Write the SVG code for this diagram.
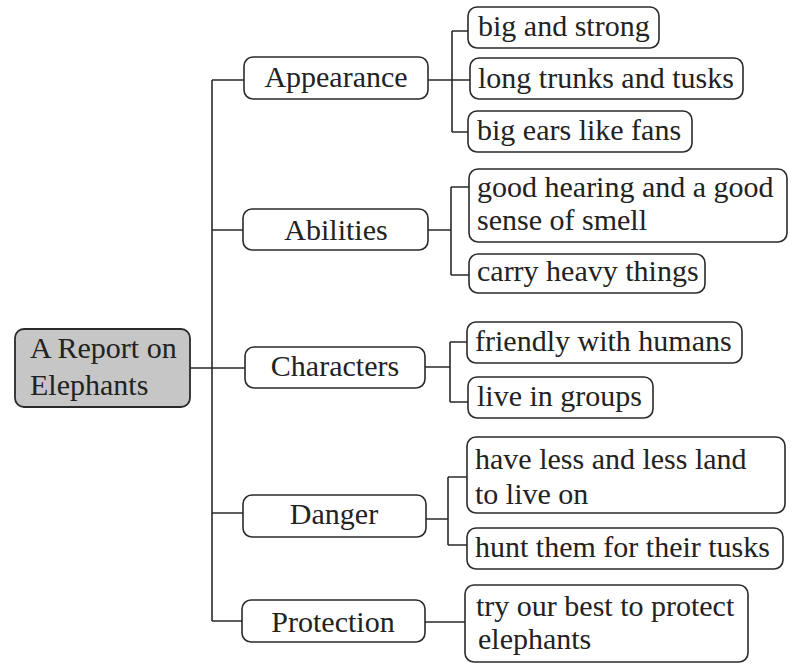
<svg xmlns="http://www.w3.org/2000/svg" width="795" height="672" viewBox="0 0 795 672">
<style>
.box{fill:#fff;stroke:#2a2a2a;stroke-width:1.6}
.root{fill:#c6c6c6;stroke:#2a2a2a;stroke-width:1.8}
.t{font-family:'Liberation Serif','DejaVu Serif',serif;font-size:30px;fill:#222}
.m{text-anchor:middle}
.c{fill:none;stroke:#2a2a2a;stroke-width:1.6}
</style>
<rect width="795" height="672" fill="#fff"/>
<g id="connectors" class="c">
<path d="M190 368H245"/>
<path d="M212 80V621"/>
<path d="M212 80H244M212 230H243M212 513H243M212 621H242"/>
<path d="M428 80H470M452 31V132M452 31H468M452 132H468"/>
<path d="M428 230H451M451 187V275M451 187H469M451 275H469"/>
<path d="M425 367H450M450 342V402M450 342H467M450 402H468"/>
<path d="M426 519H448M448 477V545M448 477H467M448 545H467"/>
<path d="M425 622H465"/>
</g>
<g id="root"><rect class="root" x="15" y="329" width="175" height="78" rx="9"/><text class="t" font-family="Liberation Serif, serif" x="30" y="358">A Report on</text><text class="t" x="30" y="395">Elephants</text></g>
<g id="appearance"><rect class="box" x="244" y="57" width="184" height="42" rx="9"/><text class="t m" x="336" y="87">Appearance</text></g>
<g id="abilities"><rect class="box" x="243" y="209" width="185" height="41" rx="9"/><text class="t m" x="336" y="240">Abilities</text></g>
<g id="characters"><rect class="box" x="245" y="347" width="180" height="41" rx="9"/><text class="t m" x="335" y="376">Characters</text></g>
<g id="danger"><rect class="box" x="243" y="495" width="183" height="42" rx="9"/><text class="t m" x="334" y="524">Danger</text></g>
<g id="protection"><rect class="box" x="242" y="600" width="183" height="42" rx="9"/><text class="t m" x="333" y="632">Protection</text></g>
<g id="leaf1"><rect class="box" x="468" y="7" width="191" height="41" rx="9"/><text class="t" x="478" y="36">big and strong</text></g>
<g id="leaf2"><rect class="box" x="470" y="58" width="273" height="41" rx="9"/><text class="t" x="478" y="88">long trunks and tusks</text></g>
<g id="leaf3"><rect class="box" x="468" y="111" width="224" height="41" rx="9"/><text class="t" x="477" y="140">big ears like fans</text></g>
<g id="leaf4"><rect class="box" x="469" y="169" width="318" height="73" rx="9"/><text class="t" x="477" y="197">good hearing and a good</text><text class="t" x="477" y="230">sense of smell</text></g>
<g id="leaf5"><rect class="box" x="469" y="254" width="236" height="39" rx="9"/><text class="t" x="477" y="281">carry heavy things</text></g>
<g id="leaf6"><rect class="box" x="467" y="322" width="275" height="41" rx="9"/><text class="t" x="475" y="351">friendly with humans</text></g>
<g id="leaf7"><rect class="box" x="468" y="377" width="185" height="41" rx="9"/><text class="t" x="477" y="406">live in groups</text></g>
<g id="leaf8"><rect class="box" x="467" y="437" width="318" height="76" rx="9"/><text class="t" x="475" y="469">have less and less land</text><text class="t" x="475" y="504">to live on</text></g>
<g id="leaf9"><rect class="box" x="467" y="528" width="316" height="41" rx="9"/><text class="t" x="475" y="557">hunt them for their tusks</text></g>
<g id="leaf10"><rect class="box" x="465" y="585" width="283" height="77" rx="9"/><text class="t" x="476" y="616">try our best to protect</text><text class="t" x="478" y="649">elephants</text></g>
</svg>
